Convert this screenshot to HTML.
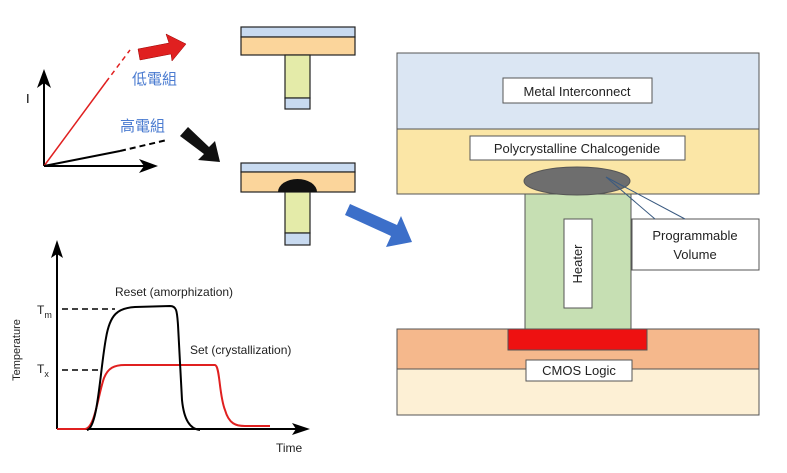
<!DOCTYPE html>
<html><head><style>body{margin:0;background:#fff}svg{display:block}text{font-family:"Liberation Sans","Noto Sans CJK TC",sans-serif}</style></head><body>
<svg width="787" height="473" viewBox="0 0 787 473">
<!-- top-left I-V -->
<line x1="44" y1="166" x2="44" y2="78" stroke="#000" stroke-width="2"/>
<polygon points="44,69 37,88 44,83 51,88" fill="#000"/>
<line x1="44" y1="166" x2="150" y2="166" stroke="#000" stroke-width="2"/>
<polygon points="158,166 139,159 144,166 139,173" fill="#000"/>
<text x="26" y="103" font-size="13">I</text>
<line x1="44" y1="166" x2="106" y2="82" stroke="#e02020" stroke-width="1.5"/>
<line x1="106" y1="82" x2="130" y2="50" stroke="#e02020" stroke-width="1.5" stroke-dasharray="5,4"/>
<line x1="44" y1="166" x2="120" y2="151" stroke="#000" stroke-width="2"/>
<line x1="120" y1="151" x2="167" y2="140" stroke="#000" stroke-width="2" stroke-dasharray="6,4"/>
<polygon points="138,49 169,43 166,34 186,44 172,61 171,54 140,60" fill="#e02020" stroke="#900" stroke-width="0.5"/>
<polygon points="180,136 188,127 209,147 215,141 220,162 198,160 204,154" fill="#111"/>
<text x="132" y="84" font-size="15" fill="#4a7bd0">低電組</text>
<text x="120" y="131" font-size="15" fill="#4a7bd0">高電組</text>
<!-- cells -->
<g stroke="#222" stroke-width="1.2">
<rect x="241" y="27" width="114" height="10" fill="#c8daf0"/>
<rect x="241" y="37" width="114" height="18" fill="#fbd59b"/>
<rect x="285" y="55" width="25" height="43" fill="#e4eba9"/>
<rect x="285" y="98" width="25" height="11" fill="#c8daf0"/>
<rect x="241" y="163" width="114" height="9" fill="#c8daf0"/>
<rect x="241" y="172" width="114" height="20" fill="#fbd59b"/>
<rect x="285" y="192" width="25" height="41" fill="#e4eba9"/>
<rect x="285" y="233" width="25" height="12" fill="#c8daf0"/>
</g>
<path d="M278,192 A19.5,13 0 0 1 317,192 Z" fill="#111"/>
<polygon points="345,215 350,204 397,225 401,216 412,242 386,247 391,236" fill="#3c6fc9"/>
<!-- right panel -->
<g stroke="#555" stroke-width="1">
<rect x="397" y="53" width="362" height="76" fill="#dbe6f3"/>
<rect x="397" y="129" width="362" height="65" fill="#fbe6a6"/>
<rect x="397" y="329" width="362" height="40" fill="#f5b88c"/>
<rect x="397" y="369" width="362" height="46" fill="#fdf0d5"/>
<rect x="525" y="194" width="106" height="135" fill="#c6dfb3"/>
<ellipse cx="577" cy="181" rx="53" ry="14" fill="#6e6e6e"/>
<rect x="508" y="329" width="139" height="21" fill="#ee1111"/>
<rect x="503" y="78" width="149" height="25" fill="#fff"/>
<rect x="470" y="136" width="215" height="24" fill="#fff"/>
<rect x="564" y="219" width="28" height="89" fill="#fff"/>
<rect x="632" y="219" width="127" height="51" fill="#fff"/>
<rect x="526" y="360" width="106" height="21" fill="#fff"/>
</g>
<polyline points="655,219 606,177 685,219" fill="none" stroke="#3a5a80" stroke-width="1"/>
<g font-size="13" fill="#222" text-anchor="middle">
<text x="577" y="96">Metal Interconnect</text>
<text x="577" y="153">Polycrystalline Chalcogenide</text>
<text x="695" y="240">Programmable</text>
<text x="695" y="259">Volume</text>
<text x="579" y="375">CMOS Logic</text>
<text transform="translate(582,264) rotate(-90)">Heater</text>
</g>
<!-- bottom-left graph -->
<line x1="57" y1="429" x2="57" y2="250" stroke="#000" stroke-width="2"/>
<polygon points="57,240 51,258 57,254 63,258" fill="#000"/>
<line x1="57" y1="429" x2="300" y2="429" stroke="#000" stroke-width="2"/>
<polygon points="310,429 292,423 296,429 292,435" fill="#000"/>
<line x1="62" y1="309" x2="115" y2="309" stroke="#000" stroke-width="1.5" stroke-dasharray="6,4"/>
<line x1="62" y1="370" x2="100" y2="370" stroke="#000" stroke-width="1.5" stroke-dasharray="6,4"/>
<path d="M57,429 L85,429 C95,428 98,395 104,378 C108,368 114,365 125,365 L215,365 C220,366 219,395 225,410 C229,424 236,426 245,426 L270,426" fill="none" stroke="#e02020" stroke-width="2"/>
<path d="M87,430 C98,428 100,370 106,338 C110,314 118,308 135,307 L170,306 C177,306 177,312 178,325 L182,400 C184,420 190,429 200,430" fill="none" stroke="#000" stroke-width="2"/>
<g font-size="12" fill="#222">
<text x="115" y="296">Reset (amorphization)</text>
<text x="190" y="354">Set (crystallization)</text>
<text x="276" y="452">Time</text>
<text x="37" y="314">T<tspan font-size="9" dy="4">m</tspan></text>
<text x="37" y="373">T<tspan font-size="9" dy="4">x</tspan></text>
<text transform="translate(20,350) rotate(-90)" text-anchor="middle" font-size="11">Temperature</text>
</g>
</svg>
</body></html>
